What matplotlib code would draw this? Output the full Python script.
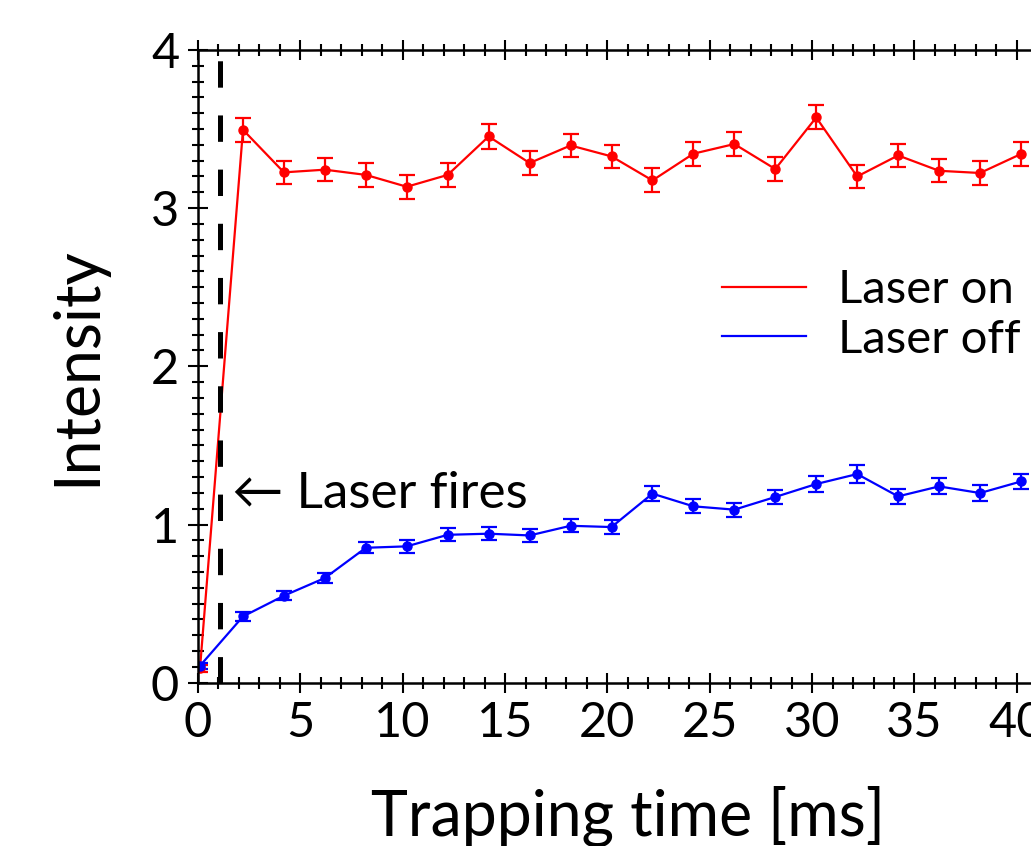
import matplotlib
matplotlib.use("Agg")
import matplotlib.pyplot as plt
from matplotlib.ticker import MultipleLocator

#data
t = [0.1, 2.2, 4.2, 6.2, 8.2, 10.2, 12.2, 14.2, 16.2, 18.2, 20.2,
     22.2, 24.2, 26.2, 28.2, 30.2, 32.2, 34.2, 36.2, 38.2, 40.2]
laserOn = [0.09, 3.495, 3.226, 3.243, 3.21, 3.135, 3.21, 3.453, 3.285, 3.396, 3.327,
           3.175, 3.344, 3.405, 3.247, 3.573, 3.2, 3.333, 3.236, 3.222, 3.342]
laserOnErr = [0.02, 0.075, 0.074, 0.073, 0.075, 0.076, 0.074, 0.077, 0.075, 0.075, 0.075,
              0.076, 0.075, 0.076, 0.074, 0.076, 0.075, 0.074, 0.074, 0.074, 0.075]
laserOff = [0.107, 0.419, 0.55, 0.662, 0.853, 0.862, 0.935, 0.942, 0.931, 0.992, 0.984,
            1.195, 1.115, 1.094, 1.174, 1.256, 1.319, 1.178, 1.241, 1.199, 1.272]
laserOffErr = [0.02, 0.028, 0.03, 0.033, 0.036, 0.04, 0.04, 0.04, 0.04, 0.042, 0.042,
               0.048, 0.045, 0.045, 0.047, 0.05, 0.055, 0.048, 0.05, 0.048, 0.05]
fireTime = 1.1

plt.rcParams['font.family'] = ['Lato', 'DejaVu Sans']
plt.rcParams['lines.scale_dashes'] = False

fig = plt.figure(figsize=(10.31, 8.46), dpi=100)
ax = fig.add_axes([0.192, 0.193, 0.834, 0.748])

#lines (these go in the legend)
ax.plot(t, laserOn, color='#ff0000', lw=1.6, label='Laser on')
ax.plot(t, laserOff, color='#0000ff', lw=1.6, label='Laser off')

#markers and error bars
ax.errorbar(t, laserOn, yerr=laserOnErr, fmt='o', color='#ff0000', ms=6.5,
            elinewidth=1.6, capsize=6, capthick=1.6)
ax.errorbar(t, laserOff, yerr=laserOffErr, fmt='o', color='#0000ff', ms=6.5,
            elinewidth=1.6, capsize=6, capthick=1.6)

#laser fires marker
ax.axvline(fireTime, color='black', lw=3.6, dashes=(19, 20))
ax.text(1.65, 1.19, '\u2190 Laser fires', fontsize=37, ha='left', va='center',
        family=['Lato', 'DejaVu Sans'])

ax.set_xlim(0, 42)
ax.set_ylim(0, 4)
ax.xaxis.set_major_locator(MultipleLocator(5))
ax.xaxis.set_minor_locator(MultipleLocator(1))
ax.yaxis.set_major_locator(MultipleLocator(1))
ax.yaxis.set_minor_locator(MultipleLocator(0.1))
ax.tick_params(which='both', direction='inout', top=True, right=True, width=1.5)
ax.tick_params(which='major', length=15, labelsize=35, pad=6)
ax.tick_params(which='minor', length=8)
for s in ax.spines.values():
	s.set_linewidth(1.8)

ax.set_xlabel('Trapping time [ms]', fontsize=45, va='top')
ax.xaxis.set_label_coords(0.5, -0.163)
ax.set_ylabel('Intensity', fontsize=45)
ax.yaxis.set_label_coords(-0.107, 0.5)

ax.legend(loc='upper left', bbox_to_anchor=(0.700, 0.682), bbox_transform=fig.transFigure,
          frameon=False, fontsize=34, handlelength=1.78, handletextpad=0.68,
          labelspacing=0.16, borderpad=0, borderaxespad=0)

fig.savefig('out.png', dpi=100)
